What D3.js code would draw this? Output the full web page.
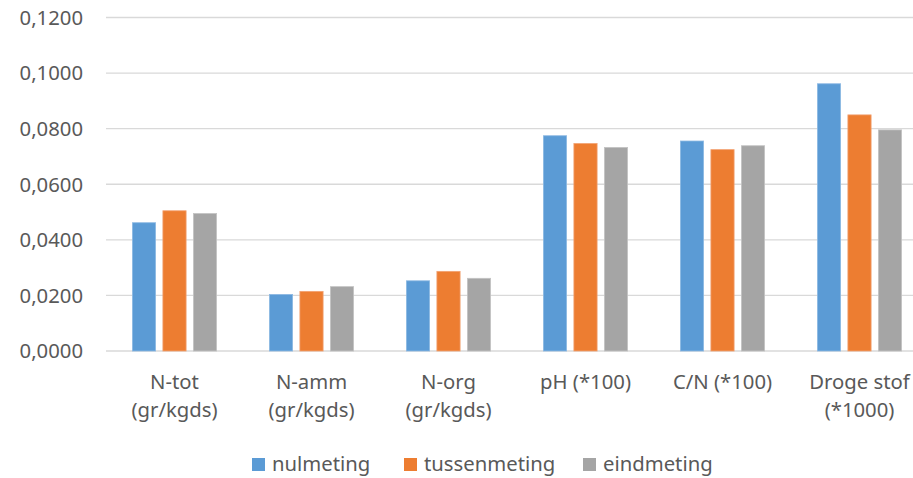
<!DOCTYPE html>
<html>
<head>
<meta charset="utf-8">
<script src="https://cdn.jsdelivr.net/npm/d3@7/dist/d3.min.js"></script>
<style>
  html, body { margin: 0; padding: 0; background: #fff; }
  svg { display: block; }
  text { font-family: "Noto Sans", "Open Sans", sans-serif; fill: #595959; }
</style>
</head>
<body>
<svg id="chart" width="913" height="478"></svg>
<script>
const categories = [
  ["N-tot", "(gr/kgds)"],
  ["N-amm", "(gr/kgds)"],
  ["N-org", "(gr/kgds)"],
  ["pH (*100)"],
  ["C/N (*100)"],
  ["Droge stof", "(*1000)"]
];
const series = ["nulmeting", "tussenmeting", "eindmeting"];
const nulmeting    = [0.0463, 0.0205, 0.0254, 0.0776, 0.0757, 0.0963];
const tussenmeting = [0.0506, 0.0216, 0.0288, 0.0748, 0.0726, 0.0851];
const eindmeting   = [0.0496, 0.0233, 0.0263, 0.0734, 0.0740, 0.0797];
const yTicks = [0, 0.02, 0.04, 0.06, 0.08, 0.10, 0.12];
const tickLabels = ["0,0000", "0,0200", "0,0400", "0,0600", "0,0800", "0,1000", "0,1200"];
const colors = ["#5B9BD5", "#ED7D31", "#A5A5A5"];
const strokes = ["#8DB9E3", "#F2A273", "#C3C3C3"];

const values = [nulmeting, tussenmeting, eindmeting];
const catKeys = categories.map(c => c.join(" "));
const fs = 20.3;

const svg = d3.select("#chart");
const y = d3.scaleLinear().domain([0, 0.12]).range([351, 17.5]);
const x0 = d3.scaleBand().domain(catKeys).range([106, 928]).padding(0);
const x1 = d3.scaleBand().domain(series).range([26, 111]).paddingInner(0.213).paddingOuter(0);

// gridlines
svg.append("g").selectAll("line").data(yTicks).join("line")
  .attr("x1", 106).attr("x2", 913)
  .attr("y1", d => y(d)).attr("y2", d => y(d))
  .attr("stroke", "#D9D9D9").attr("stroke-width", 1.3);

// y tick labels
svg.append("g").selectAll("text").data(yTicks).join("text")
  .attr("x", 83).attr("y", d => y(d)).attr("dy", "0.36em")
  .attr("text-anchor", "end").attr("font-size", fs)
  .text((d, i) => tickLabels[i]);

// bars
const groups = svg.append("g").selectAll("g").data(catKeys).join("g")
  .attr("transform", d => `translate(${x0(d)},0)`);
groups.selectAll("rect").data((d, ci) => series.map((s, si) => ({s, si, v: values[si][ci]}))).join("rect")
  .attr("x", d => x1(d.s) + 0.4)
  .attr("width", x1.bandwidth() - 0.8)
  .attr("y", d => y(d.v) + 0.4)
  .attr("height", d => y(0) - y(d.v) - 0.4)
  .attr("fill", d => colors[d.si])
  .attr("stroke", d => strokes[d.si]).attr("stroke-width", 0.8);

// category labels
const labels = svg.append("g").selectAll("text").data(categories).join("text")
  .attr("text-anchor", "middle").attr("font-size", fs)
  .attr("transform", (d, i) => `translate(${x0(catKeys[i]) + x0.bandwidth() / 2},0)`);
labels.selectAll("tspan").data(d => d).join("tspan")
  .attr("x", 0).attr("y", (d, i) => 389 + i * 28).text(d => d);

// legend
const legendX = [252, 404, 583];
const leg = svg.append("g").selectAll("g").data(series).join("g")
  .attr("transform", (d, i) => `translate(${legendX[i]},0)`);
leg.append("rect").attr("x", 0).attr("y", 458).attr("width", 13).attr("height", 13)
  .attr("fill", (d, i) => colors[i]);
leg.append("text").attr("x", 20).attr("y", 471).attr("font-size", fs).text(d => d);
</script>
</body>
</html>
